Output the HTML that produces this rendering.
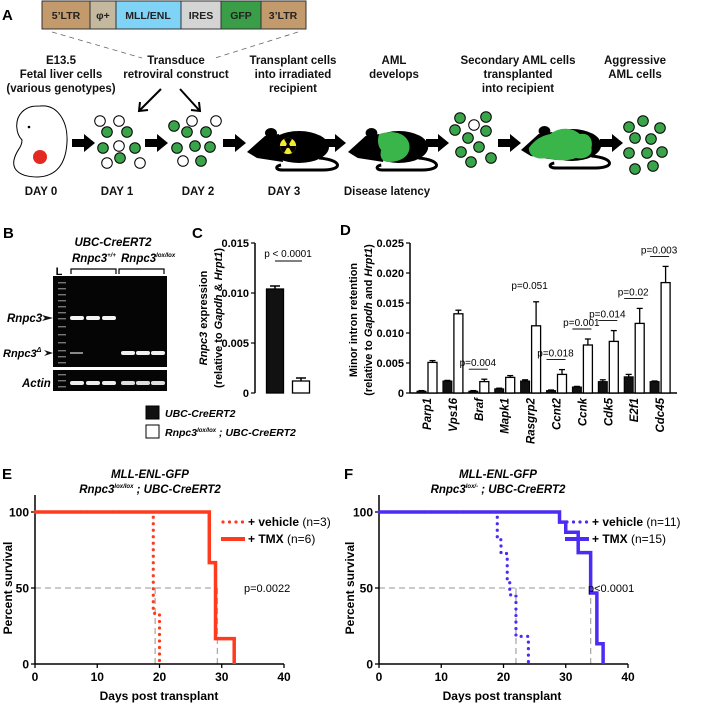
<!DOCTYPE html>
<html><head><meta charset="utf-8">
<style>
html,body{margin:0;padding:0;background:#fff;}
svg{display:block;font-family:"Liberation Sans",Arial,sans-serif;}
.b{font-weight:bold;}
</style></head>
<body>
<svg id="fig" width="705" height="704" viewBox="0 0 705 704" xmlns="http://www.w3.org/2000/svg">
<!-- PANEL A -->
<g>
<text x="2" y="20" font-size="15" class="b">A</text>
<g stroke="#333" stroke-width="1">
<rect x="42" y="1" width="48" height="28" fill="#c29a6c"/>
<rect x="90" y="1" width="26" height="28" fill="#c4b89e"/>
<rect x="116" y="1" width="65" height="28" fill="#7fd3f7"/>
<rect x="181" y="1" width="40" height="28" fill="#d4d4d4"/>
<rect x="221" y="1" width="40" height="28" fill="#3a9d48"/>
<rect x="261" y="1" width="45" height="28" fill="#c29a6c"/>
</g>
<g font-size="10.5" class="b" fill="#222" text-anchor="middle">
<text x="66" y="19">5’LTR</text><text x="103" y="19">φ+</text><text x="148" y="19">MLL/ENL</text><text x="201" y="19">IRES</text><text x="241" y="19">GFP</text><text x="283" y="19">3’LTR</text>
</g>
<line x1="52" y1="32" x2="142" y2="58" stroke="#666" stroke-dasharray="5,4" stroke-width="0.8"/>
<line x1="298" y1="32" x2="215" y2="58" stroke="#666" stroke-dasharray="5,4" stroke-width="0.8"/>
<g font-size="11.5" class="b" fill="#111" text-anchor="middle">
<text x="61" y="64">E13.5</text><text x="61" y="78">Fetal liver cells</text><text x="61" y="92">(various genotypes)</text>
<text x="176" y="64">Transduce</text><text x="176" y="78">retroviral construct</text>
<text x="293" y="64">Transplant cells</text><text x="293" y="78">into irradiated</text><text x="293" y="92">recipient</text>
<text x="394" y="64">AML</text><text x="394" y="78">develops</text>
<text x="518" y="64">Secondary AML cells</text><text x="518" y="78">transplanted</text><text x="518" y="92">into recipient</text>
<text x="635" y="64">Aggressive</text><text x="635" y="78">AML cells</text>
</g>
<g stroke="#000" stroke-width="2" fill="none">
<line x1="161" y1="89" x2="140" y2="110"/><polyline points="140,102 139,111 148,110"/>
<line x1="180" y1="89" x2="199" y2="110"/><polyline points="191,110 200,111 199,102"/>
</g>
<g>
<path d="M40,106 C58,104 68,122 67,142 C66,162 58,176 38,177 C20,177 12,170 14,160 C16,150 22,148 22,140 C16,134 14,120 22,112 C28,106 34,106 40,106 Z" fill="#fff" stroke="#000" stroke-width="1"/>
<circle cx="29" cy="127" r="1.3" fill="#000"/>
<circle cx="40" cy="157" r="7" fill="#e32a22"/>
</g>
<g id="cells"></g>
<g id="arrows"></g>
<g id="mice"></g>
<g font-size="11.5" class="b" fill="#111" text-anchor="middle">
<text x="41" y="195">DAY 0</text><text x="117" y="195">DAY 1</text><text x="198" y="195">DAY 2</text><text x="284" y="195">DAY 3</text><text x="387" y="195">Disease latency</text>
</g>
</g>

<!-- PANEL B -->
<g>
<text x="3" y="238" font-size="15" class="b">B</text>
<text x="113" y="246" font-size="11.5" class="b" font-style="italic" text-anchor="middle">UBC-CreERT2</text>
<text x="72" y="262" font-size="11.5" class="b" font-style="italic">Rnpc3<tspan font-size="6" dy="-5">+/+</tspan></text>
<text x="121" y="262" font-size="11.5" class="b" font-style="italic">Rnpc3<tspan font-size="6" dy="-5">lox/lox</tspan></text>
<text x="59" y="275" font-size="11" class="b" text-anchor="middle">L</text>
<polyline points="71,274 71,269 116,269 116,274" fill="none" stroke="#000" stroke-width="1.2"/>
<polyline points="119,274 119,269 164,269 164,274" fill="none" stroke="#000" stroke-width="1.2"/>
<rect x="53" y="276" width="114" height="91" fill="#050505"/>
<rect x="53" y="370" width="114" height="21" fill="#050505"/>
<g id="gel"></g>
<text x="7" y="322" font-size="11.5" class="b" font-style="italic">Rnpc3</text>
<text x="3" y="357" font-size="11" class="b" font-style="italic">Rnpc3<tspan font-size="7" dy="-5">Δ</tspan></text>
<text x="22" y="387" font-size="11.5" class="b" font-style="italic">Actin</text>
<polygon points="42,315 53,318 42,321 45,318" fill="#111"/>
<polygon points="44,350 53,353 44,356 47,353" fill="#111"/>
</g>

<!-- PANEL C -->
<g id="panelC">
<text x="192" y="238" font-size="15" class="b">C</text>
<g font-size="11" class="b">
<text transform="translate(207,318) rotate(-90)" text-anchor="middle"><tspan font-style="italic">Rnpc3</tspan> expression</text>
<text transform="translate(222,318) rotate(-90)" text-anchor="middle">(relative to <tspan font-style="italic">Gapdh</tspan> &amp; <tspan font-style="italic">Hrpt1</tspan>)</text>
</g>
</g>
<g>
<rect x="146" y="406" width="13" height="13" fill="#111" stroke="#000"/>
<text x="165" y="417" font-size="10.5" class="b" font-style="italic">UBC-CreERT2</text>
<rect x="146" y="425" width="13" height="13" fill="#fff" stroke="#000"/>
<text x="165" y="436" font-size="10.5" class="b" font-style="italic">Rnpc3<tspan font-size="6" dy="-4">lox/lox</tspan><tspan dy="4"> ; UBC-CreERT2</tspan></text>
</g>

<!-- PANEL D -->
<g id="panelD">
<text x="340" y="235" font-size="15" class="b">D</text>
<g font-size="11" class="b">
<text transform="translate(357,320) rotate(-90)" text-anchor="middle">Minor intron retention</text>
<text transform="translate(372,320) rotate(-90)" text-anchor="middle">(relative to <tspan font-style="italic">Gapdh</tspan> and <tspan font-style="italic">Hrpt1</tspan>)</text>
</g>
</g>

<!-- PANEL E -->
<g id="panelE">
<text x="2" y="479" font-size="15" class="b">E</text>
<text x="150" y="478" font-size="11.5" class="b" font-style="italic" text-anchor="middle">MLL-ENL-GFP</text>
<text x="150" y="493" font-size="11.5" class="b" font-style="italic" text-anchor="middle">Rnpc3<tspan font-size="6" dy="-5">lox/lox</tspan><tspan dy="5"> ; UBC-CreERT2</tspan></text>
<text transform="translate(12,588) rotate(-90)" text-anchor="middle" font-size="12" class="b">Percent survival</text>
<text x="159" y="700" text-anchor="middle" font-size="12" class="b">Days post transplant</text>
</g>
<!-- PANEL F -->
<g id="panelF">
<text x="344" y="479" font-size="15" class="b">F</text>
<text x="498" y="478" font-size="11.5" class="b" font-style="italic" text-anchor="middle">MLL-ENL-GFP</text>
<text x="498" y="493" font-size="11.5" class="b" font-style="italic" text-anchor="middle">Rnpc3<tspan font-size="6" dy="-5">lox/-</tspan><tspan dy="5"> ; UBC-CreERT2</tspan></text>
<text transform="translate(354,588) rotate(-90)" text-anchor="middle" font-size="12" class="b">Percent survival</text>
<text x="502" y="700" text-anchor="middle" font-size="12" class="b">Days post transplant</text>
</g>
</svg>
<script>
// ---- Chart data ----
const cCategories = ['UBC-CreERT2', 'Rnpc3lox/lox; UBC-CreERT2'];
const cValues = [0.0104, 0.0012];
const cErrors = [0.0003, 0.0003];
const cTicks = [0, 0.005, 0.010, 0.015];
const cTickLabels = ['0', '0.005', '0.010', '0.015'];

const dGenes = ['Parp1','Vps16','Braf','Mapk1','Rasgrp2','Ccnt2','Ccnk','Cdk5','E2f1','Cdc45'];
const dControl = [0.0003, 0.0020, 0.0003, 0.0007, 0.0020, 0.0004, 0.0010, 0.0019, 0.0027, 0.0019];
const dControlErr = [0.0001, 0.0001, 0.0001, 0.0001, 0.0002, 0.0001, 0.0001, 0.0003, 0.0004, 0.0001];
const dKnockout = [0.0051, 0.0132, 0.0019, 0.0026, 0.0112, 0.0031, 0.0080, 0.0086, 0.0116, 0.0184];
const dKnockoutErr = [0.0003, 0.0006, 0.0004, 0.0003, 0.0040, 0.0008, 0.0010, 0.0018, 0.0025, 0.0027];
const dPvals = [null, null, 'p=0.004', null, 'p=0.051', 'p=0.018', 'p=0.001', 'p=0.014', 'p=0.02', 'p=0.003'];
const dTicks = [0, 0.005, 0.010, 0.015, 0.020, 0.025];
const dTickLabels = ['0', '0.005', '0.010', '0.015', '0.020', '0.025'];

const survXTicks = [0, 10, 20, 30, 40];
const survYTicks = [0, 50, 100];
const eVehTimes = [0, 19, 20];
const eVehSurv = [100, 33.3, 0];
const eTmxTimes = [0, 28, 29, 32];
const eTmxSurv = [100, 66.7, 16.7, 0];
const eMedians = [19.3, 29.3];
const fVehTimes = [0, 19, 19.6, 20.6, 21, 22, 24];
const fVehSurv = [100, 81.8, 72.7, 54.5, 45.5, 18.2, 0];
const fTmxTimes = [0, 29, 30, 32, 34, 35, 36];
const fTmxSurv = [100, 93.3, 86.7, 73.3, 46.7, 13.3, 0];
const fMedians = [22, 34];

const NS = 'http://www.w3.org/2000/svg';
function mk(parent, tag, attrs, text) {
  const el = document.createElementNS(NS, tag);
  for (const k in attrs) el.setAttribute(k, attrs[k]);
  if (text !== undefined) el.textContent = text;
  parent.appendChild(el);
  return el;
}

// ---- Panel A decorations ----
const cellsG = document.getElementById('cells');
const cellSpec = [
 [100,121,0],[119,121,0],[107,132,1],[127,132,1],[103,148,1],[119,146,0],[135,148,1],[120,158,1],[107,163,0],[140,163,0],
 [174,126,1],[192,121,0],[216,121,0],[187,132,1],[206,132,1],[177,148,1],[195,146,1],[210,147,1],[183,161,0],[201,161,1],
 [460,118,1],[486,117,1],[474,125,0],[455,130,1],[486,131,1],[468,138,1],[479,147,1],[461,152,1],[491,158,1],[471,162,1],
 [629,127,1],[643,121,1],[660,128,1],[635,138,1],[651,139,1],[629,153,1],[647,153,1],[662,152,1],[635,169,1],[653,166,1]];
cellSpec.forEach(c => {
  const el = mk(cellsG, 'circle', {cx:c[0], cy:c[1], r:5.3, fill:c[2]?'#3aa44a':'#fff', stroke:'#000', 'stroke-width':1});
  
  
});
const arrG = document.getElementById('arrows');
[72,145,223,323,426,498,600].forEach(x => {
  const el = mk(arrG, 'polygon', {points:`${x},139 ${x+12},139 ${x+12},134 ${x+23},143 ${x+12},152 ${x+12},147 ${x},147`, fill:'#000'});
  
  
});
const miceG = document.getElementById('mice');
function mouse(x, y, w, extra) {
  const g = mk(miceG, 'g', {transform:`translate(${x},${y}) scale(${w/90},1)`});
  
  
  mk(g, 'ellipse', {cx:52, cy:19, rx:30, ry:16, fill:'#000'});
  mk(g, 'polygon', {points:'0,24 18,8 32,6 36,34 10,30', fill:'#000'});
  mk(g, 'ellipse', {cx:24, cy:5, rx:6, ry:5, fill:'#000'});
  mk(g, 'path', {d:'M72,30 C96,32 96,42 76,42 L36,42 C28,42 28,38 34,37', fill:'none', stroke:'#000', 'stroke-width':3});
  if (extra) extra(g);
  return g;
}
mouse(247, 128, 90, g => {
  mk(g, 'circle', {cx:41, cy:18, r:8.5, fill:'#f3ec2a', stroke:'#000', 'stroke-width':0.8});
  mk(g, 'circle', {cx:41, cy:18, r:2, fill:'#000'});
  mk(g, 'path', {d:'M41,18 L37,11 A8,8 0 0 1 45,11 Z M41,18 L49,18 A8,8 0 0 1 45,25 Z M41,18 L37,25 A8,8 0 0 1 33,18 Z', fill:'#000'});
});
mouse(348, 128, 88, g => {
  mk(g, 'path', {d:'M32,6 C44,2 58,4 62,14 C66,26 56,34 42,34 C34,34 32,28 34,22 C30,18 30,10 32,6 Z', fill:'#3ab54a'});
});
mouse(521, 126, 88, g => {
  mk(g, 'path', {d:'M8,22 C14,14 20,10 30,8 C40,0 54,2 60,8 C70,6 74,14 72,22 C74,30 64,34 56,32 C46,36 34,34 26,32 C16,34 8,30 8,22 Z', fill:'#3ab54a'});
});

// ---- Panel B gel bands ----
const gel = document.getElementById('gel');
[282,288,294,300,306,312,318,326,334,342,350,356,362].forEach(y => {
  const el = mk(gel, 'rect', {x:58, y:y, width:8, height:1.4, fill:'#777'});
  
  
});
[374,380,386].forEach(y => mk(gel, 'rect', {x:58, y:y, width:8, height:1.4, fill:'#777'}));
[77,93,109].forEach((x,i) => {
  const el = mk(gel, 'rect', {x:x-7, y:316, width:14, height:4, rx:2, fill:'#f4f4f4'});
  
  
  mk(gel, 'rect', {x:x-7, y:381, width:14, height:4, rx:2, fill:'#eee'});
});
mk(gel, 'rect', {x:70, y:352, width:13, height:2, fill:'#888'});
[128,143,158].forEach(x => {
  const el = mk(gel, 'rect', {x:x-7, y:351, width:14, height:4, rx:2, fill:'#f0f0f0'});
  
  
  mk(gel, 'rect', {x:x-7, y:381, width:14, height:4, rx:2, fill:'#ddd'});
});

// ---- Panel C ----
const C = document.getElementById('panelC');
const cY = v => 393 - v / 0.015 * 150;
const cX = i => 275 + i * 26;
mk(C, 'line', {x1:255, y1:cY(0.015), x2:255, y2:393, stroke:'#000', 'stroke-width':1.5});
cTicks.forEach((t,i) => {
  mk(C, 'line', {x1:251, y1:cY(t), x2:255, y2:cY(t), stroke:'#000', 'stroke-width':1.2});
  const tl = mk(C, 'text', {x:249, y:cY(t)+4, 'font-size':11, 'font-weight':'bold', 'text-anchor':'end'}, cTickLabels[i]);
  
  
});
cValues.forEach((v,i) => {
  const x = cX(i);
  mk(C, 'line', {x1:x, y1:cY(v+cErrors[i]), x2:x, y2:cY(v), stroke:'#000', 'stroke-width':1.5});
  mk(C, 'line', {x1:x-5, y1:cY(v+cErrors[i]), x2:x+5, y2:cY(v+cErrors[i]), stroke:'#000', 'stroke-width':1.5});
  const b = mk(C, 'rect', {x:x-8.5, y:cY(v), width:17, height:393-cY(v), fill:i===0?'#111':'#fff', stroke:'#000', 'stroke-width':1.3});
  
  
});
mk(C, 'text', {x:288, y:257, 'font-size':10, 'text-anchor':'middle'}, 'p < 0.0001');
mk(C, 'line', {x1:275, y1:261, x2:302, y2:261, stroke:'#000', 'stroke-width':1});

// ---- Panel D ----
const D = document.getElementById('panelD');
const dY = v => 393 - v / 0.025 * 150;
const dX = i => 427 + i * 25.9;
mk(D, 'line', {x1:410, y1:dY(0.025), x2:410, y2:393, stroke:'#000', 'stroke-width':1.5});
mk(D, 'line', {x1:410, y1:393, x2:677, y2:393, stroke:'#000', 'stroke-width':1.5});
dTicks.forEach((t,i) => {
  mk(D, 'line', {x1:406, y1:dY(t), x2:410, y2:dY(t), stroke:'#000', 'stroke-width':1.2});
  const tl = mk(D, 'text', {x:404, y:dY(t)+4, 'font-size':11, 'font-weight':'bold', 'text-anchor':'end'}, dTickLabels[i]);
  
  
});
function errBar(g, x, v, e, yfn) {
  mk(g, 'line', {x1:x, y1:yfn(v+e), x2:x, y2:yfn(v), stroke:'#000', 'stroke-width':1.3});
  mk(g, 'line', {x1:x-3, y1:yfn(v+e), x2:x+3, y2:yfn(v+e), stroke:'#000', 'stroke-width':1.3});
}
dGenes.forEach((g,i) => {
  const c = dX(i);
  errBar(D, c-5.5, dControl[i], dControlErr[i], dY);
  errBar(D, c+5.5, dKnockout[i], dKnockoutErr[i], dY);
  const b1 = mk(D, 'rect', {x:c-10, y:dY(dControl[i]), width:9, height:393-dY(dControl[i]), fill:'#111', stroke:'#000', 'stroke-width':1});
  
  
  const b2 = mk(D, 'rect', {x:c+1, y:dY(dKnockout[i]), width:9, height:393-dY(dKnockout[i]), fill:'#fff', stroke:'#000', 'stroke-width':1.3});
  
  
  const lab = mk(D, 'text', {transform:`translate(${c+4},398) rotate(-90)`, 'font-size':11.5, 'font-weight':'bold', 'font-style':'italic', 'text-anchor':'end'}, g);
  
  
  if (dPvals[i]) {
    const top = dY(Math.max(dKnockout[i]+dKnockoutErr[i], dControl[i]+dControlErr[i]));
    const ly = top - 10;
    if (dPvals[i] !== 'p=0.051') mk(D, 'line', {x1:c-10, y1:ly, x2:c+9, y2:ly, stroke:'#000', 'stroke-width':0.9});
    const pt = mk(D, 'text', {x:c-1, y:ly-3, 'font-size':10, 'text-anchor':'middle'}, dPvals[i]);
    
    
  }
});

// ---- Survival panels ----
function survival(G, x0, color, vehT, vehS, tmxT, tmxS, medians, pText, nVeh, nTmx) {
  const X = d => x0 + d / 40 * 249;
  const Y = p => 664 - p / 100 * 152;
  mk(G, 'line', {x1:X(0), y1:Y(50), x2:X(medians[1]), y2:Y(50), stroke:'#aaa', 'stroke-width':1.3, 'stroke-dasharray':'6,4'});
  medians.forEach(m => mk(G, 'line', {x1:X(m), y1:Y(50), x2:X(m), y2:Y(0), stroke:'#aaa', 'stroke-width':1.3, 'stroke-dasharray':'6,4'}));
  mk(G, 'line', {x1:x0, y1:495, x2:x0, y2:Y(0), stroke:'#000', 'stroke-width':1.5});
  mk(G, 'line', {x1:x0, y1:Y(0), x2:X(40), y2:Y(0), stroke:'#000', 'stroke-width':1.5});
  survYTicks.forEach(t => {
    mk(G, 'line', {x1:x0-4, y1:Y(t), x2:x0, y2:Y(t), stroke:'#000', 'stroke-width':1.3});
    const tl = mk(G, 'text', {x:x0-6, y:Y(t)+4.5, 'font-size':12, 'font-weight':'bold', 'text-anchor':'end'}, String(t));
    
    
  });
  survXTicks.forEach(t => {
    mk(G, 'line', {x1:X(t), y1:Y(0), x2:X(t), y2:Y(0)+4, stroke:'#000', 'stroke-width':1.3});
    const tl = mk(G, 'text', {x:X(t), y:Y(0)+17, 'font-size':12, 'font-weight':'bold', 'text-anchor':'middle'}, String(t));
    
    
  });
  function stepPath(T, S) {
    let d = `M${X(T[0])},${Y(S[0])}`;
    for (let i = 1; i < T.length; i++) d += ` H${X(T[i])} V${Y(S[i])}`;
    return d;
  }
  const v = mk(G, 'path', {d:stepPath(vehT, vehS), fill:'none', stroke:color, 'stroke-width':3.2, 'stroke-linecap':'round', 'stroke-dasharray':'0,6.5'});
  
  
  const t = mk(G, 'path', {d:stepPath(tmxT, tmxS), fill:'none', stroke:color, 'stroke-width':3.5});
  
  
  const lx = X(0) + 188;
  mk(G, 'line', {x1:lx, y1:522, x2:lx+20, y2:522, stroke:color, 'stroke-width':3.2, 'stroke-linecap':'round', 'stroke-dasharray':'0,6.5'});
  mk(G, 'line', {x1:lx-2, y1:539, x2:lx+22, y2:539, stroke:color, 'stroke-width':4});
  const l1 = mk(G, 'text', {x:lx+25, y:526, 'font-size':12}, '');
  l1.innerHTML = '<tspan font-weight="bold">+ vehicle</tspan> (n=' + nVeh + ')';
  
  
  const l2 = mk(G, 'text', {x:lx+25, y:543, 'font-size':12}, '');
  l2.innerHTML = '<tspan font-weight="bold">+ TMX</tspan> (n=' + nTmx + ')';
  
  
  const p = mk(G, 'text', {x:X(0)+209, y:592, 'font-size':11}, pText);
  
  
}
survival(document.getElementById('panelE'), 35, '#ff3b1f', eVehTimes, eVehSurv, eTmxTimes, eTmxSurv, eMedians, 'p=0.0022', 3, 6);
survival(document.getElementById('panelF'), 379, '#4b2cf4', fVehTimes, fVehSurv, fTmxTimes, fTmxSurv, fMedians, 'p<0.0001', 11, 15);
</script>
</body></html>
